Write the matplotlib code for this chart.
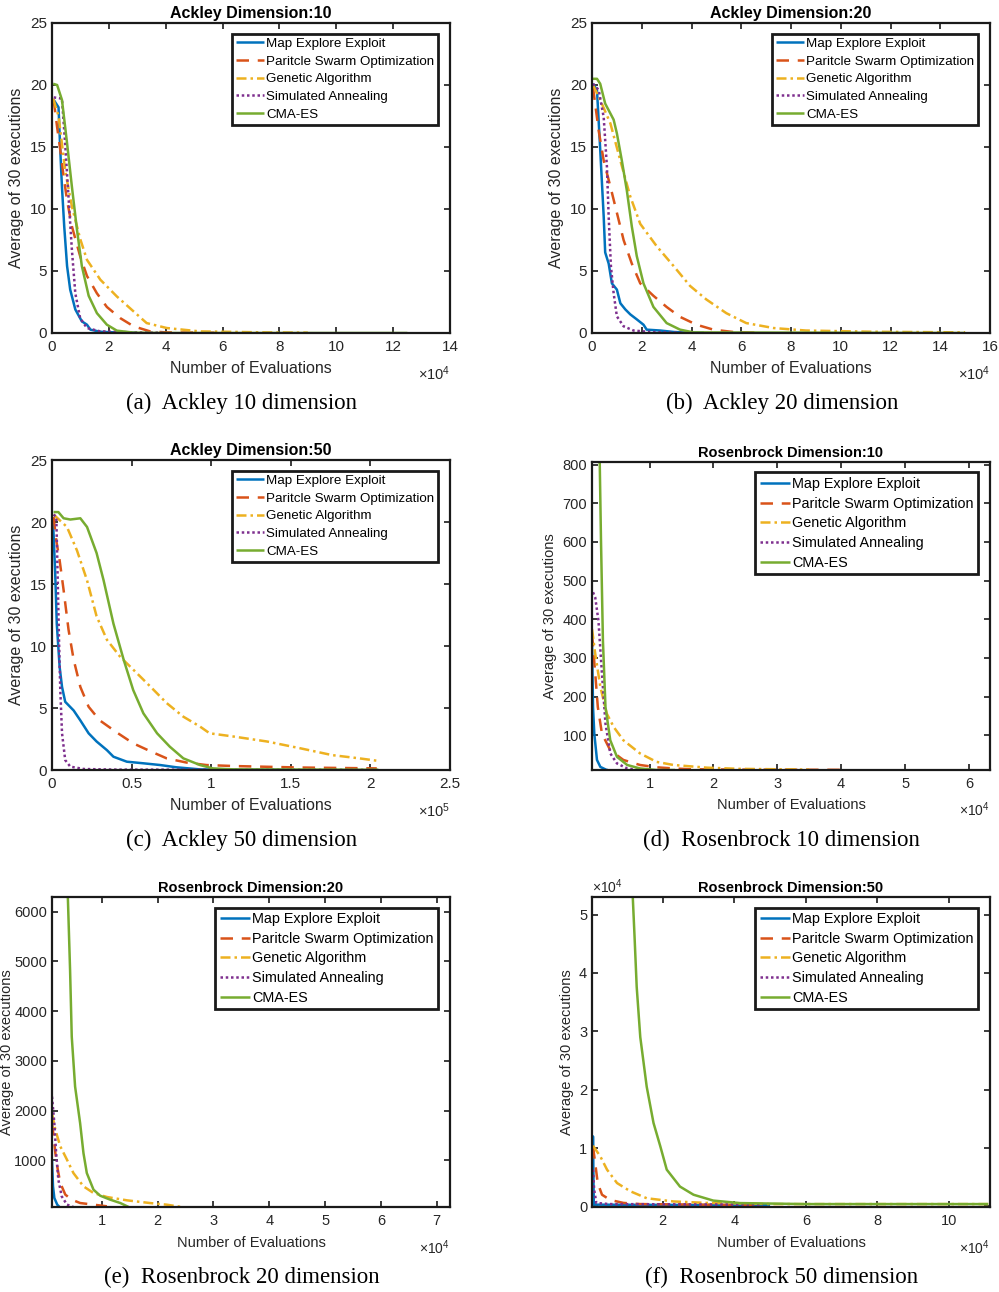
import matplotlib
matplotlib.use('Agg')
import matplotlib.pyplot as plt
from matplotlib.ticker import FixedLocator, FuncFormatter

plt.rcParams['font.family'] = ['Liberation Sans', 'DejaVu Sans']
plt.rcParams['mathtext.fontset'] = 'custom'
plt.rcParams['mathtext.rm'] = 'Liberation Sans'
plt.rcParams['mathtext.it'] = 'Liberation Sans:italic'
plt.rcParams['mathtext.bf'] = 'Liberation Sans:bold'

# ---------------- data ----------------
series_names = ['Map Explore Exploit', 'Paritcle Swarm Optimization',
                'Genetic Algorithm', 'Simulated Annealing', 'CMA-ES']

# (a) Ackley dimension 10
a_mee_x = [600, 2300, 2900, 3500, 4300, 5300, 6400, 8200, 10500, 12300, 13500, 17000, 22000, 30000]
a_mee_y = [18.8, 18.2, 14.8, 11.8, 8.6, 5.4, 3.5, 1.9, 0.94, 0.67, 0.27, 0.1, 0.05, 0.02]
a_pso_x = [600, 1800, 2900, 4100, 5300, 7000, 9900, 12300, 15800, 19300, 24000, 28700, 34500, 40000, 60000]
a_pso_y = [18.8, 16.6, 14.8, 12.6, 10.7, 8.6, 6.2, 4.6, 3.2, 2.1, 1.2, 0.54, 0.13, 0.05, 0.02]
a_ga_x = [400, 2300, 4700, 7000, 9900, 12300, 17000, 22800, 28700, 33300, 40400, 52000, 75000, 90000]
a_ga_y = [18.9, 17.5, 13.0, 10.2, 7.6, 5.9, 4.3, 2.95, 1.74, 0.8, 0.4, 0.13, 0.05, 0.03]
a_sa_x = [600, 3500, 4700, 5800, 7000, 8200, 9900, 12300, 17000, 28700, 40000]
a_sa_y = [19.0, 18.9, 15.0, 11.0, 6.7, 3.2, 1.2, 0.4, 0.13, 0.05, 0.02]
a_cma_x = [400, 1800, 3500, 5300, 7000, 8800, 10500, 12900, 15800, 19300, 22800, 28700, 40000, 125000]
a_cma_y = [20.1, 20.0, 18.8, 15.3, 11.8, 8.3, 5.4, 3.0, 1.6, 0.67, 0.19, 0.03, 0.0, 0.0]

# (b) Ackley dimension 20
b_mee_x = [400, 2000, 3300, 4700, 5300, 6700, 8000, 10000, 11400, 13400, 15400, 18000, 20700, 22000, 27400, 33000, 39000, 45000]
b_mee_y = [20.1, 19.6, 14.8, 9.4, 6.5, 5.6, 4.0, 3.5, 2.4, 1.9, 1.5, 1.1, 0.67, 0.27, 0.2, 0.08, 0.03, 0.02]
b_pso_x = [400, 2700, 4700, 7400, 10000, 12700, 16000, 19400, 24700, 30000, 35400, 42000, 48800, 56800, 66000]
b_pso_y = [19.8, 16.3, 13.9, 11.8, 9.7, 7.5, 5.6, 4.0, 3.0, 2.1, 1.3, 0.67, 0.27, 0.08, 0.03]
b_ga_x = [400, 3300, 7400, 11400, 15400, 19400, 26000, 32800, 39400, 46000, 54000, 62000, 73000, 86000, 113000, 150000]
b_ga_y = [20.0, 18.8, 16.9, 13.9, 11.0, 8.8, 7.0, 5.4, 3.8, 2.7, 1.6, 0.8, 0.4, 0.2, 0.1, 0.05]
b_sa_x = [400, 2700, 4700, 6000, 6700, 7600, 8700, 10000, 12700, 16700, 23400, 32800, 40000]
b_sa_y = [20.1, 19.6, 17.4, 13.4, 9.4, 5.4, 3.2, 1.34, 0.54, 0.2, 0.08, 0.03, 0.02]
b_cma_x = [400, 2000, 3300, 5300, 7400, 8700, 10000, 12000, 14000, 16000, 18000, 20700, 24700, 30000, 35400, 40800, 150000]
b_cma_y = [20.5, 20.5, 20.1, 18.5, 17.7, 17.2, 16.1, 13.9, 11.5, 8.6, 6.2, 4.0, 2.1, 0.8, 0.27, 0.05, 0.0]

# (c) Ackley dimension 50
c_mee_x = [600, 2000, 3000, 4800, 6300, 8300, 13600, 17800, 23000, 28000, 34500, 38600, 47000, 57400, 68000, 78000, 93000, 114000, 150000]
c_mee_y = [20.2, 15.9, 11.8, 8.3, 6.7, 5.5, 4.8, 4.0, 2.96, 2.3, 1.6, 1.07, 0.67, 0.54, 0.4, 0.22, 0.05, 0.02, 0.01]
c_pso_x = [1000, 2700, 4800, 7300, 10400, 13600, 17800, 23000, 30000, 41000, 51000, 62000, 72000, 84500, 97000, 114000, 156000, 204000]
c_pso_y = [20.4, 18.5, 16.9, 14.5, 11.3, 8.9, 6.7, 5.1, 4.0, 3.0, 2.15, 1.5, 0.94, 0.6, 0.4, 0.32, 0.2, 0.13]
c_ga_x = [1000, 9400, 15700, 22000, 28000, 34500, 43000, 51000, 62000, 72000, 82500, 93000, 99000, 114000, 135000, 156000, 176000, 193000, 204000]
c_ga_y = [20.6, 19.6, 17.7, 15.3, 12.4, 10.5, 9.1, 8.1, 6.7, 5.4, 4.3, 3.5, 2.96, 2.7, 2.3, 1.75, 1.2, 0.94, 0.75]
c_sa_x = [1000, 2700, 3500, 4400, 5200, 6300, 8300, 11500, 20000, 41000, 204000]
c_sa_y = [20.6, 20.4, 15.9, 10.5, 6.45, 2.96, 0.8, 0.27, 0.08, 0.03, 0.01]
c_cma_x = [1000, 4000, 7300, 11500, 17800, 22000, 28000, 32400, 38600, 45000, 51000, 57400, 66000, 74000, 82500, 93000, 101000, 114000, 205000]
c_cma_y = [20.8, 20.8, 20.3, 20.2, 20.3, 19.6, 17.5, 15.3, 11.8, 8.9, 6.45, 4.57, 2.96, 1.88, 0.94, 0.4, 0.13, 0.05, 0.02]

# (d) Rosenbrock dimension 10
d_mee_x = [990, 1150, 1350, 1770, 2300, 3300, 3500]
d_mee_y = [345, 173, 104, 36, 18, 10, 10]
d_pso_x = [990, 1500, 1900, 2550, 3850, 5900, 8500, 11100, 13750, 16400, 25000, 40000]
d_pso_y = [362, 259, 173, 104, 61, 36, 23, 17, 14, 12, 11, 10.5]
d_ga_x = [990, 1500, 2300, 3300, 4400, 5900, 8500, 11100, 13750, 19000, 24000, 35000]
d_ga_y = [375, 310, 225, 156, 121, 87, 53, 31, 23, 16, 13, 11]
d_sa_x = [1150, 1500, 2000, 2550, 3100, 3850, 4900, 6500, 8500, 10000]
d_sa_y = [470, 456, 396, 259, 130, 53, 27, 14, 10, 10]
d_cma_x = [1900, 2200, 2400, 2700, 3100, 3850, 4900, 6500, 8500, 11100, 14000]
d_cma_y = [807, 807, 602, 345, 173, 87, 44, 23, 14, 10, 10]

# (e) Rosenbrock dimension 20
e_mee_x = [1060, 1240, 1480, 2000, 2400]
e_mee_y = [1013, 479, 245, 111, 64]
e_pso_x = [1060, 1360, 1660, 2100, 2550, 3450, 4600, 6100, 8500, 10900]
e_pso_y = [1749, 1481, 1147, 813, 545, 312, 211, 144, 111, 78]
e_ga_x = [1060, 1660, 2550, 3750, 4900, 6700, 8500, 10900, 14500, 18600, 21600, 24300]
e_ga_y = [1949, 1615, 1281, 1013, 746, 479, 345, 265, 198, 144, 111, 64]
e_sa_x = [1060, 1480, 1800, 2200, 2800, 3750, 4900]
e_sa_y = [2283, 1749, 1147, 612, 278, 111, 64]
e_cma_x = [3900, 4300, 4600, 5200, 6100, 6700, 7300, 8500, 9700, 11500, 13300, 14800]
e_cma_y = [6294, 4824, 3487, 2484, 1749, 1147, 746, 412, 291, 211, 144, 64]

# (f) Rosenbrock dimension 50
f_mee_x = [460, 470, 520, 650, 1100, 50000]
f_mee_y = [100, 12000, 6000, 600, 300, 200]
f_pso_x = [460, 1100, 1800, 3000, 5300, 9000, 13700, 30000, 48000]
f_pso_y = [10300, 7400, 4000, 2000, 1100, 600, 400, 300, 250]
f_ga_x = [460, 2500, 4400, 7200, 10900, 15500, 23000, 32300, 51000, 79000, 111000]
f_ga_y = [10400, 8600, 6300, 4000, 2600, 1400, 850, 600, 400, 400, 400]
f_sa_x = [460, 800, 1400, 5000, 48000]
f_sa_y = [6300, 2900, 600, 400, 300]
f_cma_x = [11600, 12100, 12700, 13700, 15500, 17400, 19300, 21100, 24800, 28600, 34100, 41600, 60000, 111000]
f_cma_y = [53000, 46200, 37600, 29000, 20500, 14300, 10300, 6300, 3400, 2000, 1000, 570, 400, 400]

titles = ['Ackley Dimension:10', 'Ackley Dimension:20', 'Ackley Dimension:50',
          'Rosenbrock Dimension:10', 'Rosenbrock Dimension:20', 'Rosenbrock Dimension:50']
captions = ['(a)  Ackley 10 dimension', '(b)  Ackley 20 dimension', '(c)  Ackley 50 dimension',
            '(d)  Rosenbrock 10 dimension', '(e)  Rosenbrock 20 dimension', '(f)  Rosenbrock 50 dimension']

# ---------------- styling ----------------
colors = ['#0072BD', '#D95319', '#EDB120', '#7E2F8E', '#77AC30']
dashes = [None, (5, 3.5), (4, 1.6, 1, 1.6), (1, 1.1), None]
LW = 1.8
TXT = '#262626'

W, H = 999, 1292
fig = plt.figure(figsize=(W / 100, H / 100), dpi=100)


def add_axes(l, r, t, b):
    return fig.add_axes([l / W, 1 - b / H, (r - l) / W, (b - t) / H])


panels = [
    dict(box=(52, 450, 23, 333), data=[(a_mee_x, a_mee_y), (a_pso_x, a_pso_y), (a_ga_x, a_ga_y), (a_sa_x, a_sa_y), (a_cma_x, a_cma_y)],
         xlim=(0, 140000), ylim=(0, 25), xt=[0, 20000, 40000, 60000, 80000, 100000, 120000, 140000], xs=1e4, xexp=4,
         yt=[0, 5, 10, 15, 20, 25], ys=1, fs=11, lfs=9.6, tfs=11.5, ylx=-0.088, cap=(241.5, 403)),
    dict(box=(592, 990, 23, 333), data=[(b_mee_x, b_mee_y), (b_pso_x, b_pso_y), (b_ga_x, b_ga_y), (b_sa_x, b_sa_y), (b_cma_x, b_cma_y)],
         xlim=(0, 160000), ylim=(0, 25), xt=[0, 20000, 40000, 60000, 80000, 100000, 120000, 140000, 160000], xs=1e4, xexp=4,
         yt=[0, 5, 10, 15, 20, 25], ys=1, fs=11, lfs=9.6, tfs=11.5, ylx=-0.088, cap=(782, 403)),
    dict(box=(52, 450, 460, 770), data=[(c_mee_x, c_mee_y), (c_pso_x, c_pso_y), (c_ga_x, c_ga_y), (c_sa_x, c_sa_y), (c_cma_x, c_cma_y)],
         xlim=(0, 250000), ylim=(0, 25), xt=[0, 50000, 100000, 150000, 200000, 250000], xs=1e5, xexp=5,
         yt=[0, 5, 10, 15, 20, 25], ys=1, fs=11, lfs=9.6, tfs=11.5, ylx=-0.088, cap=(241.5, 840)),
    dict(box=(592, 990, 462, 770), data=[(d_mee_x, d_mee_y), (d_pso_x, d_pso_y), (d_ga_x, d_ga_y), (d_sa_x, d_sa_y), (d_cma_x, d_cma_y)],
         xlim=(990, 63300), ylim=(10, 807), xt=[10000, 20000, 30000, 40000, 50000, 60000], xs=1e4, xexp=4,
         yt=[100, 200, 300, 400, 500, 600, 700, 800], ys=1, fs=10.5, lfs=10.4, tfs=10.5, ylx=-0.1055, cap=(781.5, 840)),
    dict(box=(52, 450, 897, 1207), data=[(e_mee_x, e_mee_y), (e_pso_x, e_pso_y), (e_ga_x, e_ga_y), (e_sa_x, e_sa_y), (e_cma_x, e_cma_y)],
         xlim=(1060, 72400), ylim=(64, 6294), xt=[10000, 20000, 30000, 40000, 50000, 60000, 70000], xs=1e4, xexp=4,
         yt=[1000, 2000, 3000, 4000, 5000, 6000], ys=1, fs=10.5, lfs=10.4, tfs=10.5, ylx=-0.112, cap=(241.5, 1277)),
    dict(box=(592, 990, 897, 1207), data=[(f_mee_x, f_mee_y), (f_pso_x, f_pso_y), (f_ga_x, f_ga_y), (f_sa_x, f_sa_y), (f_cma_x, f_cma_y)],
         xlim=(200, 111500), ylim=(-100, 53000), xt=[20000, 40000, 60000, 80000, 100000], xs=1e4, xexp=4,
         yt=[0, 10000, 20000, 30000, 40000, 50000], ys=1e4, fs=10.5, lfs=10.4, tfs=10.5, ylx=-0.063, cap=(782, 1277)),
]


def fmt(scale):
    def f(v, pos):
        return '%g' % round(v / scale, 6)
    return FuncFormatter(f)


for p, title, cap in zip(panels, titles, captions):
    l, r, t, b = p['box']
    ax = add_axes(l, r, t, b)
    for (x, y), c, d, name in zip(p['data'], colors, dashes, series_names):
        line, = ax.plot(x, y, color=c, lw=LW, label=name, solid_capstyle='butt')
        if d is not None:
            line.set_dashes(d)
            line.set_dash_capstyle('butt')
    ax.set_xlim(*p['xlim'])
    ax.set_ylim(*p['ylim'])
    ax.xaxis.set_major_locator(FixedLocator(p['xt']))
    ax.yaxis.set_major_locator(FixedLocator(p['yt']))
    ax.xaxis.set_major_formatter(fmt(p['xs']))
    ax.yaxis.set_major_formatter(fmt(p['ys']))
    ax.tick_params(direction='in', length=4, width=1.2, top=True, right=True,
                   labelsize=p['fs'], labelcolor=TXT, color='#1a1a1a')
    ax.tick_params(axis='x', pad=5)
    ax.tick_params(axis='y', pad=3.5)
    for s in ax.spines.values():
        s.set_linewidth(1.6)
        s.set_color('#1a1a1a')
    ax.set_title(title, fontsize=p['tfs'], fontweight='bold', pad=3.5, color='black')
    ax.set_xlabel('Number of Evaluations', fontsize=p['tfs'], color=TXT)
    ax.xaxis.label.set_va('center')
    ax.xaxis.set_label_coords(0.5, -0.115)
    ax.set_ylabel('Average of 30 executions', fontsize=p['tfs'], color=TXT)
    ax.yaxis.label.set_va('center')
    ax.yaxis.set_label_coords(p['ylx'], 0.5)
    ax.text(1.0, -0.13, r'$\times10^{%d}$' % p['xexp'], transform=ax.transAxes,
            ha='right', va='center', fontsize=p['fs'] - 0.5, color=TXT)
    if p['ys'] != 1:
        ax.text(0.0, 1.032, r'$\times10^{4}$', transform=ax.transAxes,
                ha='left', va='center', fontsize=p['fs'] - 0.5, color=TXT)
    leg = ax.legend(loc='upper right', bbox_to_anchor=(0.970, 0.966), borderaxespad=0,
                    fontsize=p['lfs'], frameon=True, fancybox=False, framealpha=1,
                    edgecolor='#1a1a1a', borderpad=0.3, labelspacing=0.4,
                    handlelength=2.1, handletextpad=0.15)
    leg.get_frame().set_linewidth(2.0)
    for txt in leg.get_texts():
        txt.set_color('black')
    fig.text(p['cap'][0] / W, 1 - p['cap'][1] / H, cap, ha='center', va='center',
             fontsize=16.5, family='Liberation Serif', color='black')

fig.savefig('out.png', dpi=100)
